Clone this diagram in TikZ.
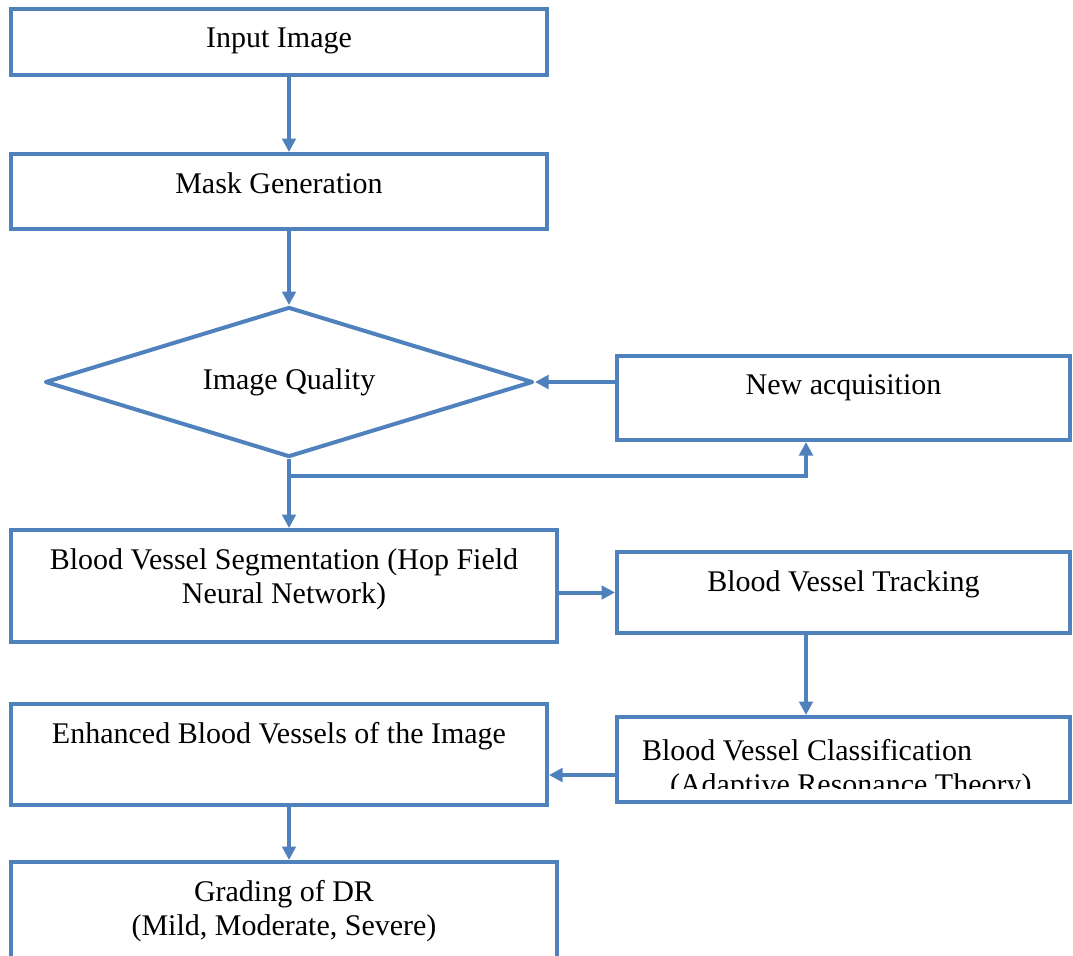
\documentclass[tikz,border=0pt]{standalone}
\usepackage{fontspec}
\setmainfont{Liberation Serif}
\usetikzlibrary{arrows.meta,shapes.geometric}
\definecolor{boxblue}{RGB}{79,129,189}

\begin{document}
\begin{tikzpicture}[x=0.4pt,y=-0.4pt,>={Triangle[length=5.4pt,width=5.4pt]},
                    line width=1.6pt]
  \tikzset{box/.style={rectangle,draw=boxblue,inner sep=0pt},
           lbl/.style={anchor=north,inner sep=0pt,yshift=-7.4pt,align=center,
                       font=\fontsize{12}{13.6}\selectfont},
           flow/.style={->,draw=boxblue,line width=1.6pt}}
  \useasboundingbox (0,0) rectangle (1073,955);

  % left column
  \node[box,minimum width=214.4pt,minimum height=26.4pt,
        label={[lbl]north:{Input Image}}] (in) at (279,42) {};
  \node[box,minimum width=214.4pt,minimum height=30pt,
        label={[lbl]north:{Mask Generation}}] (mask) at (279,191.5) {};
  \node[diamond,draw=boxblue,line join=round,aspect=3.25,inner sep=0pt,
        minimum width=195.2pt,minimum height=60pt,
        font=\fontsize{12}{13.6}\selectfont] (dia) at (289,382) {Image Quality};
  \node[box,minimum width=218.4pt,minimum height=44.8pt,
        label={[lbl]north:{Blood Vessel Segmentation (Hop Field\\Neural Network)}}] (seg) at (284,586) {};
  \node[box,minimum width=214.4pt,minimum height=40.4pt,
        label={[lbl]north:{Enhanced Blood Vessels of the Image}}] (enh) at (279,754.5) {};
  \node[box,minimum width=218.4pt,minimum height=40pt,
        label={[lbl]north:{Grading of DR\\(Mild, Moderate, Severe)}}] (gr) at (284,912) {};

  % right column
  \node[box,minimum width=181.2pt,minimum height=33.6pt,
        label={[lbl]north:{New acquisition}}] (na) at (843.5,398) {};
  \node[box,minimum width=181.2pt,minimum height=32.4pt,
        label={[lbl]north:{Blood Vessel Tracking}}] (tr) at (843.5,592.5) {};
  \node[box,minimum width=181.2pt,minimum height=34pt] (cls) at (843.5,759.5) {};
  \begin{scope}
    \clip (617,717) rectangle (1073,788);
    % lbl shifts down by 7.4pt already
    \node[lbl,anchor=north west,align=left] (cls-txt) at (640,719)
      {Blood Vessel Classification\\\hspace*{11.2pt}(Adaptive Resonance Theory)};
  \end{scope}

  \coordinate (bend) at (806,476);

  \draw[flow] (in.south -| dia.north) -- (mask.north -| dia.north);
  \draw[flow] (mask.south -| dia.north) -- (dia.north);
  \draw[flow] (dia.south) -- (seg.north -| dia.south);
  \draw[flow] (na.west |- dia.east) -- (dia.east);
  \draw[flow] (dia.south |- bend) -- (bend) -- (na.south -| bend);
  \draw[flow] (tr.west -| seg.east) -- (tr.west);
  \draw[flow] (tr.south -| bend) -- (cls.north -| bend);
  \draw[flow] ([yshift=-6.2pt]cls.west) -- ([yshift=-6.2pt]cls.west -| enh.east);
  \draw[flow] (enh.south -| dia.north) -- (gr.north -| dia.north);
\end{tikzpicture}
\end{document}
